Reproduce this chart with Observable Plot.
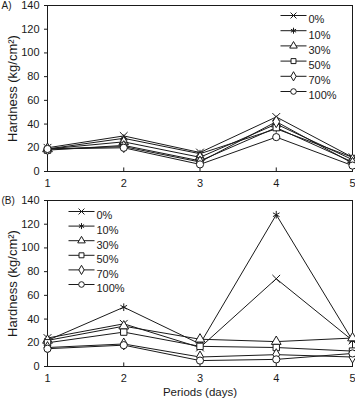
<!DOCTYPE html>
<html><head><meta charset="utf-8">
<script src="https://cdn.jsdelivr.net/npm/d3@7"></script>
<script src="https://cdn.jsdelivr.net/npm/@observablehq/plot@0.6"></script>
<style>
body{margin:0;background:#fff;font-family:"Liberation Sans",Arial,sans-serif;}
#wrap{width:355px;}
svg{display:block;}
g[aria-label="y-axis label"] text{font-size:13px;}
g[aria-label="x-axis label"] text{font-size:11.5px;}
</style></head>
<body><div id="wrap"></div>
<script>
const periods = [1, 2, 3, 4, 5];
const seriesNames = ["0%", "10%", "30%", "50%", "70%", "100%"];
const symbols = ["times", "asterisk", "triangle", "square", "diamond", "circle"];
const xTicks = [1, 2, 3, 4, 5];
const yTicks = [0, 20, 40, 60, 80, 100, 120, 140];

// Panel A
const a0 = [20, 30, 16, 46, 12];
const a10 = [19, 28, 15, 36, 12];
const a30 = [19, 25, 12, 40, 10];
const a50 = [18, 22, 9, 37, 8];
const a70 = [19, 21, 8, 42, 7];
const a100 = [19, 20, 6, 29, 5];
// Panel B
const b0 = [24, 36, 16, 74, 22];
const b10 = [22, 50, 19, 128, 22];
const b30 = [22, 34, 23, 21, 24];
const b50 = [20, 29, 17, 16, 13];
const b70 = [16, 19, 8, 10, 8];
const b100 = [15, 18, 5, 6, 11];

const panelA = [a0, a10, a30, a50, a70, a100];
const panelB = [b0, b10, b30, b50, b70, b100];

function toRows(panel) {
  const rows = [];
  panel.forEach((vals, i) => vals.forEach((v, j) => rows.push({period: periods[j], value: v, series: seriesNames[i]})));
  return rows;
}

const lineSym = {draw(ctx, size) { ctx.moveTo(-13, 0); ctx.lineTo(13, 0); }};
const ink = "#1a1a1a";

function legendMarks(anchor, lineDx, dy0, step) {
  const marks = [];
  seriesNames.forEach((s, i) => {
    const d = [s];
    const dy = dy0 + i * step;
    marks.push(Plot.dot(d, {frameAnchor: anchor, dx: lineDx, dy, symbol: () => lineSym, r: 4, stroke: ink, strokeWidth: 1}));
    marks.push(Plot.dot(d, {frameAnchor: anchor, dx: lineDx, dy, symbol: {value: () => s, scale: "symbol"}, r: 2.8, fill: "white", stroke: ink, strokeWidth: 1}));
    marks.push(Plot.text(d, {frameAnchor: anchor, dx: lineDx + 15, dy, text: (t) => t, textAnchor: "start", fontSize: 11, fill: ink}));
  });
  return marks;
}

function panel(panelData, opts) {
  const rows = toRows(panelData);
  return Plot.plot({
    width: 355,
    height: opts.height,
    marginLeft: 47,
    marginRight: 3,
    marginTop: 5,
    marginBottom: opts.height - 171,
    style: {fontFamily: "'Liberation Sans', Arial, sans-serif", fontSize: "11px", color: ink, background: "white"},
    x: {domain: [1, 5], ticks: xTicks},
    y: {domain: [0, 140], ticks: yTicks},
    symbol: {domain: seriesNames, range: symbols},
    marks: [
      Plot.frame({stroke: ink, strokeWidth: 1}),
      Plot.axisX({ticks: xTicks, tickSize: 0, tickPadding: 8, fontSize: 11, label: opts.xLabel, labelAnchor: "center", labelArrow: "none", labelOffset: 29, tickFormat: d3.format("d")}),
      Plot.ruleX(xTicks, {x: (d) => d, y1: 0, y2: 3, stroke: ink}),
      Plot.axisY({ticks: yTicks, tickSize: 3, tickPadding: 5, fontSize: 11, label: "Hardness (kg/cm²)", labelAnchor: "center", labelArrow: "none", labelOffset: 40}),
      Plot.line(rows, {x: "period", y: "value", z: "series", stroke: ink, strokeWidth: 1}),
      Plot.dot(rows, {x: "period", y: "value", symbol: "series", r: 3.6, fill: "white", stroke: ink, strokeWidth: 1}),
      Plot.text([opts.tag], {frameAnchor: "top-left", dx: -46, dy: -4, text: (t) => t, textAnchor: "start", lineAnchor: "top", fontSize: 10, fill: ink}),
      ...legendMarks(opts.legendAnchor, opts.legendDx, opts.legendDy, opts.legendStep)
    ]
  });
}

const wrap = document.getElementById("wrap");
wrap.appendChild(panel(panelA, {height: 195, xLabel: null, tag: "A)", legendAnchor: "top-right", legendDx: -59, legendDy: 10, legendStep: 15.2}));
wrap.appendChild(panel(panelB, {height: 205, xLabel: "Periods (days)", tag: "(B)", legendAnchor: "top-left", legendDx: 34, legendDy: 11, legendStep: 14.6}));
</script>
</body></html>
